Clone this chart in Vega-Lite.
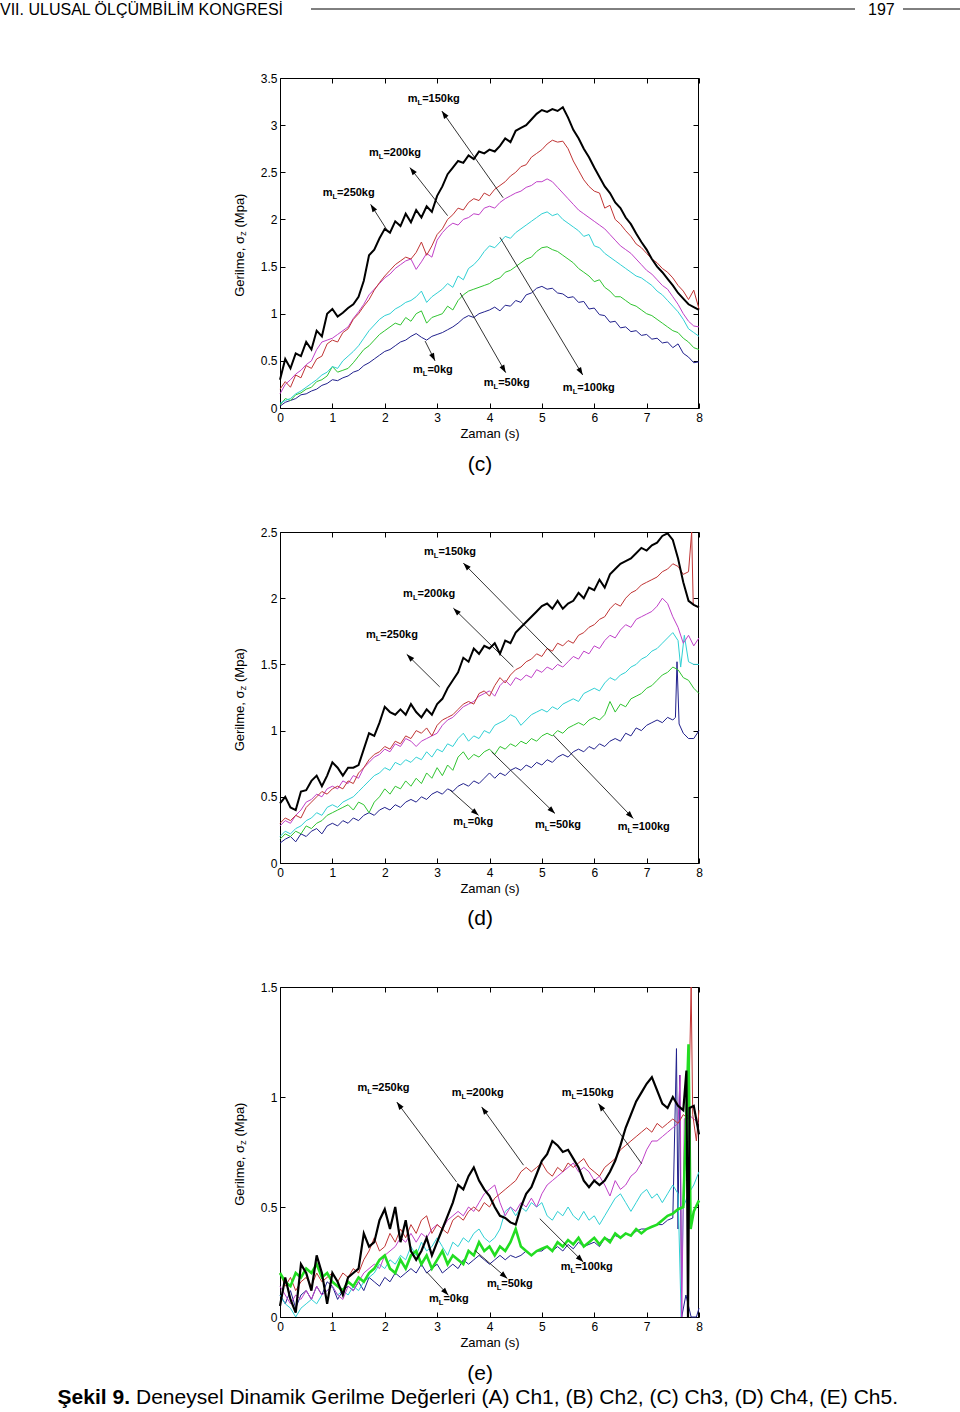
{
"$schema": "https://vega.github.io/schema/vega-lite/v6.json",
"width": 960, "height": 1412,
"autosize": {"type": "fit", "contains": "padding"},
"padding": 0,
"background": "white",
"config": {
  "font": "Liberation Sans",
  "view": {"stroke": null},
  "axis": {"domainColor": "#000", "tickColor": "#000", "labelColor": "#000", "titleColor": "#000", "labelFontSize": 12, "titleFontSize": 13, "titleFontWeight": "normal", "tickSize": -5, "labelPadding": 9, "grid": false, "labelFlush": false, "titlePadding": 4},
  "axisLeft": {"labelPadding": 8},
  "text": {"color": "#000"}
},
"datasets": {
"c": [
{"s":"0","t":0,"v":0.02},{"s":"0","t":0.1,"v":0.06},{"s":"0","t":0.2,"v":0.08},{"s":"0","t":0.3,"v":0.10},{"s":"0","t":0.4,"v":0.14},{"s":"0","t":0.5,"v":0.15},{"s":"0","t":0.6,"v":0.18},{"s":"0","t":0.7,"v":0.20},{"s":"0","t":0.8,"v":0.24},{"s":"0","t":0.9,"v":0.26},
{"s":"0","t":1,"v":0.30},{"s":"0","t":1.1,"v":0.29},{"s":"0","t":1.2,"v":0.32},{"s":"0","t":1.3,"v":0.34},{"s":"0","t":1.4,"v":0.38},{"s":"0","t":1.5,"v":0.40},{"s":"0","t":1.6,"v":0.45},{"s":"0","t":1.7,"v":0.48},{"s":"0","t":1.8,"v":0.52},{"s":"0","t":1.9,"v":0.56},
{"s":"0","t":2,"v":0.60},{"s":"0","t":2.1,"v":0.62},{"s":"0","t":2.2,"v":0.66},{"s":"0","t":2.3,"v":0.70},{"s":"0","t":2.4,"v":0.72},{"s":"0","t":2.5,"v":0.76},{"s":"0","t":2.6,"v":0.79},{"s":"0","t":2.7,"v":0.75},{"s":"0","t":2.8,"v":0.72},{"s":"0","t":2.9,"v":0.76},
{"s":"0","t":3,"v":0.78},{"s":"0","t":3.1,"v":0.80},{"s":"0","t":3.2,"v":0.83},{"s":"0","t":3.3,"v":0.86},{"s":"0","t":3.4,"v":0.90},{"s":"0","t":3.5,"v":0.95},{"s":"0","t":3.6,"v":0.98},{"s":"0","t":3.7,"v":0.96},{"s":"0","t":3.8,"v":1.00},{"s":"0","t":3.9,"v":1.02},
{"s":"0","t":4,"v":1.04},{"s":"0","t":4.1,"v":1.07},{"s":"0","t":4.2,"v":1.03},{"s":"0","t":4.3,"v":1.09},{"s":"0","t":4.4,"v":1.08},{"s":"0","t":4.5,"v":1.14},{"s":"0","t":4.6,"v":1.12},{"s":"0","t":4.7,"v":1.20},{"s":"0","t":4.8,"v":1.22},{"s":"0","t":4.9,"v":1.27},
{"s":"0","t":5,"v":1.29},{"s":"0","t":5.1,"v":1.26},{"s":"0","t":5.2,"v":1.27},{"s":"0","t":5.3,"v":1.22},{"s":"0","t":5.4,"v":1.21},{"s":"0","t":5.5,"v":1.17},{"s":"0","t":5.6,"v":1.18},{"s":"0","t":5.7,"v":1.12},{"s":"0","t":5.8,"v":1.13},{"s":"0","t":5.9,"v":1.05},
{"s":"0","t":6,"v":1.06},{"s":"0","t":6.1,"v":0.99},{"s":"0","t":6.2,"v":0.98},{"s":"0","t":6.3,"v":0.91},{"s":"0","t":6.4,"v":0.92},{"s":"0","t":6.5,"v":0.85},{"s":"0","t":6.6,"v":0.86},{"s":"0","t":6.7,"v":0.81},{"s":"0","t":6.8,"v":0.82},{"s":"0","t":6.9,"v":0.77},
{"s":"0","t":7,"v":0.78},{"s":"0","t":7.1,"v":0.73},{"s":"0","t":7.2,"v":0.74},{"s":"0","t":7.3,"v":0.69},{"s":"0","t":7.4,"v":0.70},{"s":"0","t":7.5,"v":0.64},{"s":"0","t":7.6,"v":0.68},{"s":"0","t":7.7,"v":0.58},{"s":"0","t":7.8,"v":0.54},{"s":"0","t":7.9,"v":0.48},{"s":"0","t":8,"v":0.49},
{"s":"50","t":0,"v":0.03},{"s":"50","t":0.1,"v":0.10},{"s":"50","t":0.2,"v":0.08},{"s":"50","t":0.3,"v":0.14},{"s":"50","t":0.4,"v":0.16},{"s":"50","t":0.5,"v":0.20},{"s":"50","t":0.6,"v":0.22},{"s":"50","t":0.7,"v":0.28},{"s":"50","t":0.8,"v":0.30},{"s":"50","t":0.9,"v":0.34},
{"s":"50","t":1,"v":0.44},{"s":"50","t":1.1,"v":0.38},{"s":"50","t":1.2,"v":0.40},{"s":"50","t":1.3,"v":0.42},{"s":"50","t":1.4,"v":0.48},{"s":"50","t":1.5,"v":0.55},{"s":"50","t":1.6,"v":0.62},{"s":"50","t":1.7,"v":0.66},{"s":"50","t":1.8,"v":0.72},{"s":"50","t":1.9,"v":0.78},
{"s":"50","t":2,"v":0.82},{"s":"50","t":2.1,"v":0.86},{"s":"50","t":2.2,"v":0.90},{"s":"50","t":2.3,"v":0.88},{"s":"50","t":2.4,"v":0.96},{"s":"50","t":2.5,"v":0.92},{"s":"50","t":2.6,"v":1.00},{"s":"50","t":2.7,"v":1.03},{"s":"50","t":2.8,"v":0.90},{"s":"50","t":2.9,"v":0.96},
{"s":"50","t":3,"v":0.98},{"s":"50","t":3.1,"v":1.00},{"s":"50","t":3.2,"v":1.08},{"s":"50","t":3.3,"v":1.04},{"s":"50","t":3.4,"v":1.14},{"s":"50","t":3.5,"v":1.20},{"s":"50","t":3.6,"v":1.24},{"s":"50","t":3.7,"v":1.26},{"s":"50","t":3.8,"v":1.28},{"s":"50","t":3.9,"v":1.30},
{"s":"50","t":4,"v":1.32},{"s":"50","t":4.1,"v":1.36},{"s":"50","t":4.2,"v":1.38},{"s":"50","t":4.3,"v":1.44},{"s":"50","t":4.4,"v":1.46},{"s":"50","t":4.5,"v":1.50},{"s":"50","t":4.6,"v":1.54},{"s":"50","t":4.7,"v":1.58},{"s":"50","t":4.8,"v":1.60},{"s":"50","t":4.9,"v":1.66},
{"s":"50","t":5,"v":1.70},{"s":"50","t":5.1,"v":1.71},{"s":"50","t":5.2,"v":1.68},{"s":"50","t":5.3,"v":1.66},{"s":"50","t":5.4,"v":1.62},{"s":"50","t":5.5,"v":1.58},{"s":"50","t":5.6,"v":1.54},{"s":"50","t":5.7,"v":1.48},{"s":"50","t":5.8,"v":1.44},{"s":"50","t":5.9,"v":1.40},
{"s":"50","t":6,"v":1.34},{"s":"50","t":6.1,"v":1.36},{"s":"50","t":6.2,"v":1.28},{"s":"50","t":6.3,"v":1.24},{"s":"50","t":6.4,"v":1.18},{"s":"50","t":6.5,"v":1.18},{"s":"50","t":6.6,"v":1.14},{"s":"50","t":6.7,"v":1.10},{"s":"50","t":6.8,"v":1.08},{"s":"50","t":6.9,"v":1.04},
{"s":"50","t":7,"v":1.00},{"s":"50","t":7.1,"v":0.98},{"s":"50","t":7.2,"v":0.94},{"s":"50","t":7.3,"v":0.90},{"s":"50","t":7.4,"v":0.86},{"s":"50","t":7.5,"v":0.82},{"s":"50","t":7.6,"v":0.80},{"s":"50","t":7.7,"v":0.74},{"s":"50","t":7.8,"v":0.70},{"s":"50","t":7.9,"v":0.64},{"s":"50","t":8,"v":0.62},
{"s":"100","t":0,"v":0.05},{"s":"100","t":0.1,"v":0.08},{"s":"100","t":0.2,"v":0.10},{"s":"100","t":0.3,"v":0.15},{"s":"100","t":0.4,"v":0.18},{"s":"100","t":0.5,"v":0.22},{"s":"100","t":0.6,"v":0.26},{"s":"100","t":0.7,"v":0.30},{"s":"100","t":0.8,"v":0.35},{"s":"100","t":0.9,"v":0.38},
{"s":"100","t":1,"v":0.44},{"s":"100","t":1.1,"v":0.42},{"s":"100","t":1.2,"v":0.50},{"s":"100","t":1.3,"v":0.55},{"s":"100","t":1.4,"v":0.60},{"s":"100","t":1.5,"v":0.66},{"s":"100","t":1.6,"v":0.74},{"s":"100","t":1.7,"v":0.82},{"s":"100","t":1.8,"v":0.88},{"s":"100","t":1.9,"v":0.94},
{"s":"100","t":2,"v":0.98},{"s":"100","t":2.1,"v":1.00},{"s":"100","t":2.2,"v":1.05},{"s":"100","t":2.3,"v":1.08},{"s":"100","t":2.4,"v":1.12},{"s":"100","t":2.5,"v":1.14},{"s":"100","t":2.6,"v":1.18},{"s":"100","t":2.7,"v":1.24},{"s":"100","t":2.8,"v":1.12},{"s":"100","t":2.9,"v":1.18},
{"s":"100","t":3,"v":1.22},{"s":"100","t":3.1,"v":1.26},{"s":"100","t":3.2,"v":1.32},{"s":"100","t":3.3,"v":1.28},{"s":"100","t":3.4,"v":1.40},{"s":"100","t":3.5,"v":1.36},{"s":"100","t":3.6,"v":1.48},{"s":"100","t":3.7,"v":1.52},{"s":"100","t":3.8,"v":1.58},{"s":"100","t":3.9,"v":1.66},
{"s":"100","t":4,"v":1.72},{"s":"100","t":4.1,"v":1.70},{"s":"100","t":4.2,"v":1.76},{"s":"100","t":4.3,"v":1.82},{"s":"100","t":4.4,"v":1.80},{"s":"100","t":4.5,"v":1.86},{"s":"100","t":4.6,"v":1.90},{"s":"100","t":4.7,"v":1.94},{"s":"100","t":4.8,"v":1.98},{"s":"100","t":4.9,"v":2.02},
{"s":"100","t":5,"v":2.06},{"s":"100","t":5.1,"v":2.08},{"s":"100","t":5.2,"v":2.04},{"s":"100","t":5.3,"v":2.06},{"s":"100","t":5.4,"v":2.00},{"s":"100","t":5.5,"v":1.96},{"s":"100","t":5.6,"v":1.92},{"s":"100","t":5.7,"v":1.88},{"s":"100","t":5.8,"v":1.82},{"s":"100","t":5.9,"v":1.84},
{"s":"100","t":6,"v":1.72},{"s":"100","t":6.1,"v":1.70},{"s":"100","t":6.2,"v":1.64},{"s":"100","t":6.3,"v":1.60},{"s":"100","t":6.4,"v":1.56},{"s":"100","t":6.5,"v":1.52},{"s":"100","t":6.6,"v":1.48},{"s":"100","t":6.7,"v":1.44},{"s":"100","t":6.8,"v":1.40},{"s":"100","t":6.9,"v":1.38},
{"s":"100","t":7,"v":1.34},{"s":"100","t":7.1,"v":1.30},{"s":"100","t":7.2,"v":1.24},{"s":"100","t":7.3,"v":1.20},{"s":"100","t":7.4,"v":1.14},{"s":"100","t":7.5,"v":1.08},{"s":"100","t":7.6,"v":1.02},{"s":"100","t":7.7,"v":0.94},{"s":"100","t":7.8,"v":0.84},{"s":"100","t":7.9,"v":0.80},{"s":"100","t":8,"v":0.76},
{"s":"150","t":0,"v":0.15},{"s":"150","t":0.1,"v":0.25},{"s":"150","t":0.2,"v":0.30},{"s":"150","t":0.3,"v":0.36},{"s":"150","t":0.4,"v":0.40},{"s":"150","t":0.5,"v":0.46},{"s":"150","t":0.6,"v":0.50},{"s":"150","t":0.7,"v":0.62},{"s":"150","t":0.8,"v":0.70},{"s":"150","t":0.9,"v":0.72},
{"s":"150","t":1,"v":0.74},{"s":"150","t":1.1,"v":0.78},{"s":"150","t":1.2,"v":0.82},{"s":"150","t":1.3,"v":0.86},{"s":"150","t":1.4,"v":0.95},{"s":"150","t":1.5,"v":1.02},{"s":"150","t":1.6,"v":1.10},{"s":"150","t":1.7,"v":1.20},{"s":"150","t":1.8,"v":1.26},{"s":"150","t":1.9,"v":1.32},
{"s":"150","t":2,"v":1.38},{"s":"150","t":2.1,"v":1.42},{"s":"150","t":2.2,"v":1.48},{"s":"150","t":2.3,"v":1.52},{"s":"150","t":2.4,"v":1.56},{"s":"150","t":2.5,"v":1.58},{"s":"150","t":2.6,"v":1.47},{"s":"150","t":2.7,"v":1.55},{"s":"150","t":2.8,"v":1.64},{"s":"150","t":2.9,"v":1.60},
{"s":"150","t":3,"v":1.78},{"s":"150","t":3.1,"v":1.86},{"s":"150","t":3.2,"v":1.92},{"s":"150","t":3.3,"v":1.96},{"s":"150","t":3.4,"v":1.94},{"s":"150","t":3.5,"v":2.00},{"s":"150","t":3.6,"v":2.02},{"s":"150","t":3.7,"v":2.06},{"s":"150","t":3.8,"v":2.05},{"s":"150","t":3.9,"v":2.12},
{"s":"150","t":4,"v":2.14},{"s":"150","t":4.1,"v":2.12},{"s":"150","t":4.2,"v":2.18},{"s":"150","t":4.3,"v":2.22},{"s":"150","t":4.4,"v":2.25},{"s":"150","t":4.5,"v":2.28},{"s":"150","t":4.6,"v":2.30},{"s":"150","t":4.7,"v":2.34},{"s":"150","t":4.8,"v":2.36},{"s":"150","t":4.9,"v":2.40},
{"s":"150","t":5,"v":2.40},{"s":"150","t":5.1,"v":2.43},{"s":"150","t":5.2,"v":2.40},{"s":"150","t":5.3,"v":2.34},{"s":"150","t":5.4,"v":2.28},{"s":"150","t":5.5,"v":2.22},{"s":"150","t":5.6,"v":2.16},{"s":"150","t":5.7,"v":2.10},{"s":"150","t":5.8,"v":2.06},{"s":"150","t":5.9,"v":2.02},
{"s":"150","t":6,"v":1.98},{"s":"150","t":6.1,"v":1.94},{"s":"150","t":6.2,"v":1.90},{"s":"150","t":6.3,"v":1.84},{"s":"150","t":6.4,"v":1.78},{"s":"150","t":6.5,"v":1.72},{"s":"150","t":6.6,"v":1.68},{"s":"150","t":6.7,"v":1.64},{"s":"150","t":6.8,"v":1.58},{"s":"150","t":6.9,"v":1.52},
{"s":"150","t":7,"v":1.46},{"s":"150","t":7.1,"v":1.42},{"s":"150","t":7.2,"v":1.36},{"s":"150","t":7.3,"v":1.30},{"s":"150","t":7.4,"v":1.26},{"s":"150","t":7.5,"v":1.18},{"s":"150","t":7.6,"v":1.10},{"s":"150","t":7.7,"v":1.00},{"s":"150","t":7.8,"v":0.92},{"s":"150","t":7.9,"v":0.87},{"s":"150","t":8,"v":0.86},
{"s":"200","t":0,"v":0.20},{"s":"200","t":0.1,"v":0.28},{"s":"200","t":0.2,"v":0.22},{"s":"200","t":0.3,"v":0.35},{"s":"200","t":0.4,"v":0.32},{"s":"200","t":0.5,"v":0.45},{"s":"200","t":0.6,"v":0.42},{"s":"200","t":0.7,"v":0.52},{"s":"200","t":0.8,"v":0.55},{"s":"200","t":0.9,"v":0.68},
{"s":"200","t":1,"v":0.72},{"s":"200","t":1.1,"v":0.70},{"s":"200","t":1.2,"v":0.80},{"s":"200","t":1.3,"v":0.84},{"s":"200","t":1.4,"v":0.94},{"s":"200","t":1.5,"v":1.00},{"s":"200","t":1.6,"v":1.08},{"s":"200","t":1.7,"v":1.15},{"s":"200","t":1.8,"v":1.25},{"s":"200","t":1.9,"v":1.33},
{"s":"200","t":2,"v":1.40},{"s":"200","t":2.1,"v":1.46},{"s":"200","t":2.2,"v":1.52},{"s":"200","t":2.3,"v":1.56},{"s":"200","t":2.4,"v":1.60},{"s":"200","t":2.5,"v":1.58},{"s":"200","t":2.6,"v":1.65},{"s":"200","t":2.7,"v":1.76},{"s":"200","t":2.8,"v":1.62},{"s":"200","t":2.9,"v":1.72},
{"s":"200","t":3,"v":1.84},{"s":"200","t":3.1,"v":1.90},{"s":"200","t":3.2,"v":2.00},{"s":"200","t":3.3,"v":2.05},{"s":"200","t":3.4,"v":2.12},{"s":"200","t":3.5,"v":2.10},{"s":"200","t":3.6,"v":2.18},{"s":"200","t":3.7,"v":2.22},{"s":"200","t":3.8,"v":2.20},{"s":"200","t":3.9,"v":2.28},
{"s":"200","t":4,"v":2.25},{"s":"200","t":4.1,"v":2.32},{"s":"200","t":4.2,"v":2.36},{"s":"200","t":4.3,"v":2.40},{"s":"200","t":4.4,"v":2.46},{"s":"200","t":4.5,"v":2.50},{"s":"200","t":4.6,"v":2.56},{"s":"200","t":4.7,"v":2.58},{"s":"200","t":4.8,"v":2.66},{"s":"200","t":4.9,"v":2.70},
{"s":"200","t":5,"v":2.74},{"s":"200","t":5.1,"v":2.80},{"s":"200","t":5.2,"v":2.84},{"s":"200","t":5.3,"v":2.82},{"s":"200","t":5.4,"v":2.83},{"s":"200","t":5.5,"v":2.75},{"s":"200","t":5.6,"v":2.62},{"s":"200","t":5.7,"v":2.52},{"s":"200","t":5.8,"v":2.42},{"s":"200","t":5.9,"v":2.35},
{"s":"200","t":6,"v":2.30},{"s":"200","t":6.1,"v":2.28},{"s":"200","t":6.2,"v":2.12},{"s":"200","t":6.3,"v":2.15},{"s":"200","t":6.4,"v":2.00},{"s":"200","t":6.5,"v":1.95},{"s":"200","t":6.6,"v":1.88},{"s":"200","t":6.7,"v":1.82},{"s":"200","t":6.8,"v":1.74},{"s":"200","t":6.9,"v":1.70},
{"s":"200","t":7,"v":1.64},{"s":"200","t":7.1,"v":1.58},{"s":"200","t":7.2,"v":1.54},{"s":"200","t":7.3,"v":1.48},{"s":"200","t":7.4,"v":1.44},{"s":"200","t":7.5,"v":1.38},{"s":"200","t":7.6,"v":1.30},{"s":"200","t":7.7,"v":1.24},{"s":"200","t":7.8,"v":1.15},{"s":"200","t":7.9,"v":1.25},{"s":"200","t":8,"v":1.05},
{"s":"250","t":0,"v":0.30},{"s":"250","t":0.1,"v":0.52},{"s":"250","t":0.2,"v":0.42},{"s":"250","t":0.3,"v":0.58},{"s":"250","t":0.4,"v":0.55},{"s":"250","t":0.5,"v":0.70},{"s":"250","t":0.6,"v":0.62},{"s":"250","t":0.7,"v":0.82},{"s":"250","t":0.8,"v":0.76},{"s":"250","t":0.9,"v":1.00},
{"s":"250","t":1,"v":1.05},{"s":"250","t":1.1,"v":0.97},{"s":"250","t":1.2,"v":1.01},{"s":"250","t":1.3,"v":1.06},{"s":"250","t":1.4,"v":1.10},{"s":"250","t":1.5,"v":1.18},{"s":"250","t":1.6,"v":1.35},{"s":"250","t":1.7,"v":1.62},{"s":"250","t":1.8,"v":1.68},{"s":"250","t":1.9,"v":1.80},
{"s":"250","t":2,"v":1.90},{"s":"250","t":2.1,"v":1.86},{"s":"250","t":2.2,"v":1.98},{"s":"250","t":2.3,"v":1.93},{"s":"250","t":2.4,"v":2.06},{"s":"250","t":2.5,"v":1.97},{"s":"250","t":2.6,"v":2.10},{"s":"250","t":2.7,"v":2.02},{"s":"250","t":2.8,"v":2.14},{"s":"250","t":2.9,"v":2.08},
{"s":"250","t":3,"v":2.25},{"s":"250","t":3.1,"v":2.35},{"s":"250","t":3.2,"v":2.48},{"s":"250","t":3.3,"v":2.55},{"s":"250","t":3.4,"v":2.62},{"s":"250","t":3.5,"v":2.60},{"s":"250","t":3.6,"v":2.68},{"s":"250","t":3.7,"v":2.64},{"s":"250","t":3.8,"v":2.72},{"s":"250","t":3.9,"v":2.70},
{"s":"250","t":4,"v":2.74},{"s":"250","t":4.1,"v":2.72},{"s":"250","t":4.2,"v":2.78},{"s":"250","t":4.3,"v":2.86},{"s":"250","t":4.4,"v":2.82},{"s":"250","t":4.5,"v":2.94},{"s":"250","t":4.6,"v":2.97},{"s":"250","t":4.7,"v":3.00},{"s":"250","t":4.8,"v":3.06},{"s":"250","t":4.9,"v":3.12},
{"s":"250","t":5,"v":3.16},{"s":"250","t":5.1,"v":3.14},{"s":"250","t":5.2,"v":3.17},{"s":"250","t":5.3,"v":3.15},{"s":"250","t":5.4,"v":3.19},{"s":"250","t":5.5,"v":3.08},{"s":"250","t":5.6,"v":2.95},{"s":"250","t":5.7,"v":2.86},{"s":"250","t":5.8,"v":2.75},{"s":"250","t":5.9,"v":2.66},
{"s":"250","t":6,"v":2.55},{"s":"250","t":6.1,"v":2.45},{"s":"250","t":6.2,"v":2.35},{"s":"250","t":6.3,"v":2.28},{"s":"250","t":6.4,"v":2.18},{"s":"250","t":6.5,"v":2.12},{"s":"250","t":6.6,"v":2.02},{"s":"250","t":6.7,"v":1.95},{"s":"250","t":6.8,"v":1.85},{"s":"250","t":6.9,"v":1.76},
{"s":"250","t":7,"v":1.68},{"s":"250","t":7.1,"v":1.58},{"s":"250","t":7.2,"v":1.50},{"s":"250","t":7.3,"v":1.44},{"s":"250","t":7.4,"v":1.37},{"s":"250","t":7.5,"v":1.30},{"s":"250","t":7.6,"v":1.22},{"s":"250","t":7.7,"v":1.16},{"s":"250","t":7.8,"v":1.10},{"s":"250","t":7.9,"v":1.07},{"s":"250","t":8,"v":1.04}
],
"d": [
{"s":"0","t":0,"v":0.15},{"s":"0","t":0.1,"v":0.18},{"s":"0","t":0.2,"v":0.20},{"s":"0","t":0.3,"v":0.16},{"s":"0","t":0.4,"v":0.22},{"s":"0","t":0.5,"v":0.20},{"s":"0","t":0.6,"v":0.24},{"s":"0","t":0.7,"v":0.26},{"s":"0","t":0.8,"v":0.22},{"s":"0","t":0.9,"v":0.28},
{"s":"0","t":1,"v":0.30},{"s":"0","t":1.1,"v":0.28},{"s":"0","t":1.2,"v":0.32},{"s":"0","t":1.3,"v":0.30},{"s":"0","t":1.4,"v":0.34},{"s":"0","t":1.5,"v":0.32},{"s":"0","t":1.6,"v":0.36},{"s":"0","t":1.7,"v":0.38},{"s":"0","t":1.8,"v":0.36},{"s":"0","t":1.9,"v":0.40},
{"s":"0","t":2,"v":0.42},{"s":"0","t":2.1,"v":0.40},{"s":"0","t":2.2,"v":0.44},{"s":"0","t":2.3,"v":0.42},{"s":"0","t":2.4,"v":0.46},{"s":"0","t":2.5,"v":0.48},{"s":"0","t":2.6,"v":0.46},{"s":"0","t":2.7,"v":0.50},{"s":"0","t":2.8,"v":0.48},{"s":"0","t":2.9,"v":0.52},
{"s":"0","t":3,"v":0.54},{"s":"0","t":3.1,"v":0.52},{"s":"0","t":3.2,"v":0.56},{"s":"0","t":3.3,"v":0.54},{"s":"0","t":3.4,"v":0.58},{"s":"0","t":3.5,"v":0.60},{"s":"0","t":3.6,"v":0.58},{"s":"0","t":3.7,"v":0.62},{"s":"0","t":3.8,"v":0.60},{"s":"0","t":3.9,"v":0.64},
{"s":"0","t":4,"v":0.68},{"s":"0","t":4.1,"v":0.64},{"s":"0","t":4.2,"v":0.68},{"s":"0","t":4.3,"v":0.66},{"s":"0","t":4.4,"v":0.70},{"s":"0","t":4.5,"v":0.72},{"s":"0","t":4.6,"v":0.70},{"s":"0","t":4.7,"v":0.74},{"s":"0","t":4.8,"v":0.72},{"s":"0","t":4.9,"v":0.76},
{"s":"0","t":5,"v":0.74},{"s":"0","t":5.1,"v":0.78},{"s":"0","t":5.2,"v":0.76},{"s":"0","t":5.3,"v":0.80},{"s":"0","t":5.4,"v":0.82},{"s":"0","t":5.5,"v":0.80},{"s":"0","t":5.6,"v":0.84},{"s":"0","t":5.7,"v":0.86},{"s":"0","t":5.8,"v":0.84},{"s":"0","t":5.9,"v":0.88},
{"s":"0","t":6,"v":0.86},{"s":"0","t":6.1,"v":0.90},{"s":"0","t":6.2,"v":0.88},{"s":"0","t":6.3,"v":0.92},{"s":"0","t":6.4,"v":0.94},{"s":"0","t":6.5,"v":0.92},{"s":"0","t":6.6,"v":0.98},{"s":"0","t":6.7,"v":0.96},{"s":"0","t":6.8,"v":1.02},{"s":"0","t":6.9,"v":1.00},
{"s":"0","t":7,"v":1.04},{"s":"0","t":7.1,"v":1.06},{"s":"0","t":7.2,"v":1.08},{"s":"0","t":7.3,"v":1.06},{"s":"0","t":7.4,"v":1.10},{"s":"0","t":7.5,"v":1.08},{"s":"0","t":7.55,"v":1.10},{"s":"0","t":7.58,"v":1.52},{"s":"0","t":7.62,"v":1.05},{"s":"0","t":7.7,"v":0.98},{"s":"0","t":7.8,"v":0.94},{"s":"0","t":7.9,"v":0.94},{"s":"0","t":8,"v":1.00},
{"s":"50","t":0,"v":0.18},{"s":"50","t":0.1,"v":0.22},{"s":"50","t":0.2,"v":0.20},{"s":"50","t":0.3,"v":0.24},{"s":"50","t":0.4,"v":0.22},{"s":"50","t":0.5,"v":0.28},{"s":"50","t":0.6,"v":0.26},{"s":"50","t":0.7,"v":0.30},{"s":"50","t":0.8,"v":0.32},{"s":"50","t":0.9,"v":0.36},
{"s":"50","t":1,"v":0.38},{"s":"50","t":1.1,"v":0.40},{"s":"50","t":1.2,"v":0.42},{"s":"50","t":1.3,"v":0.44},{"s":"50","t":1.4,"v":0.40},{"s":"50","t":1.5,"v":0.46},{"s":"50","t":1.6,"v":0.44},{"s":"50","t":1.7,"v":0.38},{"s":"50","t":1.8,"v":0.46},{"s":"50","t":1.9,"v":0.50},
{"s":"50","t":2,"v":0.56},{"s":"50","t":2.1,"v":0.52},{"s":"50","t":2.2,"v":0.58},{"s":"50","t":2.3,"v":0.56},{"s":"50","t":2.4,"v":0.62},{"s":"50","t":2.5,"v":0.58},{"s":"50","t":2.6,"v":0.64},{"s":"50","t":2.7,"v":0.60},{"s":"50","t":2.8,"v":0.68},{"s":"50","t":2.9,"v":0.64},
{"s":"50","t":3,"v":0.72},{"s":"50","t":3.1,"v":0.66},{"s":"50","t":3.2,"v":0.74},{"s":"50","t":3.3,"v":0.70},{"s":"50","t":3.4,"v":0.80},{"s":"50","t":3.5,"v":0.84},{"s":"50","t":3.6,"v":0.78},{"s":"50","t":3.7,"v":0.82},{"s":"50","t":3.8,"v":0.80},{"s":"50","t":3.9,"v":0.84},
{"s":"50","t":4,"v":0.86},{"s":"50","t":4.1,"v":0.82},{"s":"50","t":4.2,"v":0.88},{"s":"50","t":4.3,"v":0.86},{"s":"50","t":4.4,"v":0.90},{"s":"50","t":4.5,"v":0.88},{"s":"50","t":4.6,"v":0.92},{"s":"50","t":4.7,"v":0.90},{"s":"50","t":4.8,"v":0.94},{"s":"50","t":4.9,"v":0.92},
{"s":"50","t":5,"v":0.96},{"s":"50","t":5.1,"v":0.98},{"s":"50","t":5.2,"v":0.96},{"s":"50","t":5.3,"v":1.00},{"s":"50","t":5.4,"v":0.98},{"s":"50","t":5.5,"v":1.02},{"s":"50","t":5.6,"v":1.04},{"s":"50","t":5.7,"v":1.06},{"s":"50","t":5.8,"v":1.04},{"s":"50","t":5.9,"v":1.08},
{"s":"50","t":6,"v":1.10},{"s":"50","t":6.1,"v":1.08},{"s":"50","t":6.2,"v":1.12},{"s":"50","t":6.3,"v":1.22},{"s":"50","t":6.4,"v":1.14},{"s":"50","t":6.5,"v":1.20},{"s":"50","t":6.6,"v":1.18},{"s":"50","t":6.7,"v":1.24},{"s":"50","t":6.8,"v":1.26},{"s":"50","t":6.9,"v":1.28},
{"s":"50","t":7,"v":1.32},{"s":"50","t":7.1,"v":1.34},{"s":"50","t":7.2,"v":1.38},{"s":"50","t":7.3,"v":1.42},{"s":"50","t":7.4,"v":1.44},{"s":"50","t":7.5,"v":1.48},{"s":"50","t":7.6,"v":1.46},{"s":"50","t":7.7,"v":1.40},{"s":"50","t":7.8,"v":1.38},{"s":"50","t":7.9,"v":1.32},{"s":"50","t":8,"v":1.28},
{"s":"100","t":0,"v":0.20},{"s":"100","t":0.1,"v":0.24},{"s":"100","t":0.2,"v":0.22},{"s":"100","t":0.3,"v":0.26},{"s":"100","t":0.4,"v":0.28},{"s":"100","t":0.5,"v":0.32},{"s":"100","t":0.6,"v":0.34},{"s":"100","t":0.7,"v":0.38},{"s":"100","t":0.8,"v":0.36},{"s":"100","t":0.9,"v":0.42},
{"s":"100","t":1,"v":0.44},{"s":"100","t":1.1,"v":0.42},{"s":"100","t":1.2,"v":0.46},{"s":"100","t":1.3,"v":0.48},{"s":"100","t":1.4,"v":0.50},{"s":"100","t":1.5,"v":0.54},{"s":"100","t":1.6,"v":0.58},{"s":"100","t":1.7,"v":0.62},{"s":"100","t":1.8,"v":0.66},{"s":"100","t":1.9,"v":0.68},
{"s":"100","t":2,"v":0.72},{"s":"100","t":2.1,"v":0.70},{"s":"100","t":2.2,"v":0.76},{"s":"100","t":2.3,"v":0.74},{"s":"100","t":2.4,"v":0.78},{"s":"100","t":2.5,"v":0.76},{"s":"100","t":2.6,"v":0.80},{"s":"100","t":2.7,"v":0.78},{"s":"100","t":2.8,"v":0.84},{"s":"100","t":2.9,"v":0.80},
{"s":"100","t":3,"v":0.86},{"s":"100","t":3.1,"v":0.84},{"s":"100","t":3.2,"v":0.90},{"s":"100","t":3.3,"v":0.88},{"s":"100","t":3.4,"v":0.94},{"s":"100","t":3.5,"v":0.98},{"s":"100","t":3.6,"v":0.92},{"s":"100","t":3.7,"v":0.96},{"s":"100","t":3.8,"v":0.94},{"s":"100","t":3.9,"v":1.00},
{"s":"100","t":4,"v":0.98},{"s":"100","t":4.1,"v":1.04},{"s":"100","t":4.2,"v":1.06},{"s":"100","t":4.3,"v":1.08},{"s":"100","t":4.4,"v":1.12},{"s":"100","t":4.5,"v":1.10},{"s":"100","t":4.6,"v":1.04},{"s":"100","t":4.7,"v":1.08},{"s":"100","t":4.8,"v":1.12},{"s":"100","t":4.9,"v":1.14},
{"s":"100","t":5,"v":1.16},{"s":"100","t":5.1,"v":1.14},{"s":"100","t":5.2,"v":1.18},{"s":"100","t":5.3,"v":1.16},{"s":"100","t":5.4,"v":1.20},{"s":"100","t":5.5,"v":1.22},{"s":"100","t":5.6,"v":1.24},{"s":"100","t":5.7,"v":1.22},{"s":"100","t":5.8,"v":1.28},{"s":"100","t":5.9,"v":1.30},
{"s":"100","t":6,"v":1.32},{"s":"100","t":6.1,"v":1.30},{"s":"100","t":6.2,"v":1.36},{"s":"100","t":6.3,"v":1.40},{"s":"100","t":6.4,"v":1.38},{"s":"100","t":6.5,"v":1.42},{"s":"100","t":6.6,"v":1.44},{"s":"100","t":6.7,"v":1.48},{"s":"100","t":6.8,"v":1.50},{"s":"100","t":6.9,"v":1.54},
{"s":"100","t":7,"v":1.56},{"s":"100","t":7.1,"v":1.60},{"s":"100","t":7.2,"v":1.62},{"s":"100","t":7.3,"v":1.66},{"s":"100","t":7.4,"v":1.70},{"s":"100","t":7.5,"v":1.74},{"s":"100","t":7.6,"v":1.68},{"s":"100","t":7.65,"v":1.48},{"s":"100","t":7.72,"v":1.72},{"s":"100","t":7.8,"v":1.52},{"s":"100","t":7.9,"v":1.50},{"s":"100","t":8,"v":1.50},
{"s":"150","t":0,"v":0.28},{"s":"150","t":0.1,"v":0.32},{"s":"150","t":0.2,"v":0.30},{"s":"150","t":0.3,"v":0.36},{"s":"150","t":0.4,"v":0.40},{"s":"150","t":0.5,"v":0.46},{"s":"150","t":0.6,"v":0.48},{"s":"150","t":0.7,"v":0.52},{"s":"150","t":0.8,"v":0.50},{"s":"150","t":0.9,"v":0.56},
{"s":"150","t":1,"v":0.58},{"s":"150","t":1.1,"v":0.56},{"s":"150","t":1.2,"v":0.62},{"s":"150","t":1.3,"v":0.60},{"s":"150","t":1.4,"v":0.66},{"s":"150","t":1.5,"v":0.64},{"s":"150","t":1.6,"v":0.72},{"s":"150","t":1.7,"v":0.76},{"s":"150","t":1.8,"v":0.80},{"s":"150","t":1.9,"v":0.82},
{"s":"150","t":2,"v":0.86},{"s":"150","t":2.1,"v":0.84},{"s":"150","t":2.2,"v":0.90},{"s":"150","t":2.3,"v":0.88},{"s":"150","t":2.4,"v":0.94},{"s":"150","t":2.5,"v":0.92},{"s":"150","t":2.6,"v":0.88},{"s":"150","t":2.7,"v":0.92},{"s":"150","t":2.8,"v":0.94},{"s":"150","t":2.9,"v":0.96},
{"s":"150","t":3,"v":0.98},{"s":"150","t":3.1,"v":1.04},{"s":"150","t":3.2,"v":1.08},{"s":"150","t":3.3,"v":1.10},{"s":"150","t":3.4,"v":1.14},{"s":"150","t":3.5,"v":1.18},{"s":"150","t":3.6,"v":1.20},{"s":"150","t":3.7,"v":1.22},{"s":"150","t":3.8,"v":1.26},{"s":"150","t":3.9,"v":1.28},
{"s":"150","t":4,"v":1.30},{"s":"150","t":4.1,"v":1.26},{"s":"150","t":4.2,"v":1.34},{"s":"150","t":4.3,"v":1.38},{"s":"150","t":4.4,"v":1.34},{"s":"150","t":4.5,"v":1.40},{"s":"150","t":4.6,"v":1.38},{"s":"150","t":4.7,"v":1.42},{"s":"150","t":4.8,"v":1.40},{"s":"150","t":4.9,"v":1.46},
{"s":"150","t":5,"v":1.44},{"s":"150","t":5.1,"v":1.48},{"s":"150","t":5.2,"v":1.46},{"s":"150","t":5.3,"v":1.50},{"s":"150","t":5.4,"v":1.48},{"s":"150","t":5.5,"v":1.52},{"s":"150","t":5.6,"v":1.56},{"s":"150","t":5.7,"v":1.54},{"s":"150","t":5.8,"v":1.60},{"s":"150","t":5.9,"v":1.58},
{"s":"150","t":6,"v":1.64},{"s":"150","t":6.1,"v":1.62},{"s":"150","t":6.2,"v":1.68},{"s":"150","t":6.3,"v":1.72},{"s":"150","t":6.4,"v":1.70},{"s":"150","t":6.5,"v":1.76},{"s":"150","t":6.6,"v":1.80},{"s":"150","t":6.7,"v":1.78},{"s":"150","t":6.8,"v":1.84},{"s":"150","t":6.9,"v":1.86},
{"s":"150","t":7,"v":1.88},{"s":"150","t":7.1,"v":1.90},{"s":"150","t":7.2,"v":1.94},{"s":"150","t":7.3,"v":2.00},{"s":"150","t":7.4,"v":1.96},{"s":"150","t":7.5,"v":1.86},{"s":"150","t":7.6,"v":1.78},{"s":"150","t":7.7,"v":1.66},{"s":"150","t":7.8,"v":1.72},{"s":"150","t":7.9,"v":1.64},{"s":"150","t":8,"v":1.70},
{"s":"200","t":0,"v":0.30},{"s":"200","t":0.1,"v":0.34},{"s":"200","t":0.2,"v":0.32},{"s":"200","t":0.3,"v":0.36},{"s":"200","t":0.4,"v":0.34},{"s":"200","t":0.5,"v":0.42},{"s":"200","t":0.6,"v":0.46},{"s":"200","t":0.7,"v":0.50},{"s":"200","t":0.8,"v":0.54},{"s":"200","t":0.9,"v":0.52},
{"s":"200","t":1,"v":0.56},{"s":"200","t":1.1,"v":0.58},{"s":"200","t":1.2,"v":0.56},{"s":"200","t":1.3,"v":0.62},{"s":"200","t":1.4,"v":0.60},{"s":"200","t":1.5,"v":0.68},{"s":"200","t":1.6,"v":0.72},{"s":"200","t":1.7,"v":0.78},{"s":"200","t":1.8,"v":0.82},{"s":"200","t":1.9,"v":0.84},
{"s":"200","t":2,"v":0.88},{"s":"200","t":2.1,"v":0.86},{"s":"200","t":2.2,"v":0.92},{"s":"200","t":2.3,"v":0.90},{"s":"200","t":2.4,"v":0.96},{"s":"200","t":2.5,"v":0.94},{"s":"200","t":2.6,"v":1.00},{"s":"200","t":2.7,"v":0.98},{"s":"200","t":2.8,"v":1.02},{"s":"200","t":2.9,"v":0.96},
{"s":"200","t":3,"v":1.04},{"s":"200","t":3.1,"v":1.08},{"s":"200","t":3.2,"v":1.10},{"s":"200","t":3.3,"v":1.12},{"s":"200","t":3.4,"v":1.16},{"s":"200","t":3.5,"v":1.20},{"s":"200","t":3.6,"v":1.22},{"s":"200","t":3.7,"v":1.20},{"s":"200","t":3.8,"v":1.28},{"s":"200","t":3.9,"v":1.30},
{"s":"200","t":4,"v":1.26},{"s":"200","t":4.1,"v":1.34},{"s":"200","t":4.2,"v":1.40},{"s":"200","t":4.3,"v":1.36},{"s":"200","t":4.4,"v":1.42},{"s":"200","t":4.5,"v":1.46},{"s":"200","t":4.6,"v":1.48},{"s":"200","t":4.7,"v":1.52},{"s":"200","t":4.8,"v":1.54},{"s":"200","t":4.9,"v":1.58},
{"s":"200","t":5,"v":1.56},{"s":"200","t":5.1,"v":1.62},{"s":"200","t":5.2,"v":1.60},{"s":"200","t":5.3,"v":1.66},{"s":"200","t":5.4,"v":1.64},{"s":"200","t":5.5,"v":1.68},{"s":"200","t":5.6,"v":1.66},{"s":"200","t":5.7,"v":1.72},{"s":"200","t":5.8,"v":1.74},{"s":"200","t":5.9,"v":1.78},
{"s":"200","t":6,"v":1.80},{"s":"200","t":6.1,"v":1.84},{"s":"200","t":6.2,"v":1.86},{"s":"200","t":6.3,"v":1.92},{"s":"200","t":6.4,"v":1.96},{"s":"200","t":6.5,"v":1.94},{"s":"200","t":6.6,"v":2.00},{"s":"200","t":6.7,"v":2.04},{"s":"200","t":6.8,"v":2.06},{"s":"200","t":6.9,"v":2.10},
{"s":"200","t":7,"v":2.12},{"s":"200","t":7.1,"v":2.14},{"s":"200","t":7.2,"v":2.16},{"s":"200","t":7.3,"v":2.20},{"s":"200","t":7.4,"v":2.22},{"s":"200","t":7.5,"v":2.26},{"s":"200","t":7.6,"v":2.24},{"s":"200","t":7.7,"v":2.18},{"s":"200","t":7.8,"v":2.20},{"s":"200","t":7.86,"v":2.5},{"s":"200","t":7.89,"v":1.95},{"s":"200","t":8,"v":1.93},
{"s":"250","t":0,"v":0.45},{"s":"250","t":0.1,"v":0.50},{"s":"250","t":0.2,"v":0.42},{"s":"250","t":0.3,"v":0.40},{"s":"250","t":0.4,"v":0.54},{"s":"250","t":0.5,"v":0.55},{"s":"250","t":0.6,"v":0.62},{"s":"250","t":0.7,"v":0.66},{"s":"250","t":0.8,"v":0.58},{"s":"250","t":0.9,"v":0.66},
{"s":"250","t":1,"v":0.76},{"s":"250","t":1.1,"v":0.72},{"s":"250","t":1.2,"v":0.66},{"s":"250","t":1.3,"v":0.72},{"s":"250","t":1.4,"v":0.72},{"s":"250","t":1.5,"v":0.74},{"s":"250","t":1.6,"v":0.86},{"s":"250","t":1.7,"v":0.98},{"s":"250","t":1.8,"v":0.96},{"s":"250","t":1.9,"v":1.06},
{"s":"250","t":2,"v":1.18},{"s":"250","t":2.1,"v":1.14},{"s":"250","t":2.2,"v":1.12},{"s":"250","t":2.3,"v":1.16},{"s":"250","t":2.4,"v":1.12},{"s":"250","t":2.5,"v":1.20},{"s":"250","t":2.6,"v":1.14},{"s":"250","t":2.7,"v":1.10},{"s":"250","t":2.8,"v":1.16},{"s":"250","t":2.9,"v":1.12},
{"s":"250","t":3,"v":1.20},{"s":"250","t":3.1,"v":1.24},{"s":"250","t":3.2,"v":1.32},{"s":"250","t":3.3,"v":1.38},{"s":"250","t":3.4,"v":1.44},{"s":"250","t":3.5,"v":1.55},{"s":"250","t":3.6,"v":1.52},{"s":"250","t":3.7,"v":1.62},{"s":"250","t":3.8,"v":1.58},{"s":"250","t":3.9,"v":1.64},
{"s":"250","t":4,"v":1.62},{"s":"250","t":4.1,"v":1.66},{"s":"250","t":4.2,"v":1.58},{"s":"250","t":4.3,"v":1.68},{"s":"250","t":4.4,"v":1.66},{"s":"250","t":4.5,"v":1.74},{"s":"250","t":4.6,"v":1.78},{"s":"250","t":4.7,"v":1.82},{"s":"250","t":4.8,"v":1.86},{"s":"250","t":4.9,"v":1.90},
{"s":"250","t":5,"v":1.94},{"s":"250","t":5.1,"v":1.96},{"s":"250","t":5.2,"v":1.92},{"s":"250","t":5.3,"v":1.98},{"s":"250","t":5.4,"v":1.92},{"s":"250","t":5.5,"v":1.96},{"s":"250","t":5.6,"v":1.98},{"s":"250","t":5.7,"v":2.04},{"s":"250","t":5.8,"v":2.00},{"s":"250","t":5.9,"v":2.08},
{"s":"250","t":6,"v":2.06},{"s":"250","t":6.1,"v":2.14},{"s":"250","t":6.2,"v":2.08},{"s":"250","t":6.3,"v":2.18},{"s":"250","t":6.4,"v":2.22},{"s":"250","t":6.5,"v":2.26},{"s":"250","t":6.6,"v":2.28},{"s":"250","t":6.7,"v":2.30},{"s":"250","t":6.8,"v":2.34},{"s":"250","t":6.9,"v":2.38},
{"s":"250","t":7,"v":2.36},{"s":"250","t":7.1,"v":2.40},{"s":"250","t":7.2,"v":2.42},{"s":"250","t":7.3,"v":2.47},{"s":"250","t":7.4,"v":2.49},{"s":"250","t":7.5,"v":2.44},{"s":"250","t":7.6,"v":2.30},{"s":"250","t":7.7,"v":2.12},{"s":"250","t":7.8,"v":1.98},{"s":"250","t":7.9,"v":1.95},{"s":"250","t":8,"v":1.93}
],
"e": [
{"s":"0","t":0,"v":0.10},{"s":"0","t":0.1,"v":0.06},{"s":"0","t":0.2,"v":0.12},{"s":"0","t":0.3,"v":0.04},{"s":"0","t":0.4,"v":0.10},{"s":"0","t":0.5,"v":0.12},{"s":"0","t":0.6,"v":0.08},{"s":"0","t":0.7,"v":0.14},{"s":"0","t":0.8,"v":0.10},{"s":"0","t":0.9,"v":0.16},
{"s":"0","t":1,"v":0.14},{"s":"0","t":1.1,"v":0.08},{"s":"0","t":1.2,"v":0.12},{"s":"0","t":1.3,"v":0.14},{"s":"0","t":1.4,"v":0.12},{"s":"0","t":1.5,"v":0.16},{"s":"0","t":1.6,"v":0.12},{"s":"0","t":1.7,"v":0.18},{"s":"0","t":1.8,"v":0.16},{"s":"0","t":1.9,"v":0.14},
{"s":"0","t":2,"v":0.18},{"s":"0","t":2.1,"v":0.16},{"s":"0","t":2.2,"v":0.20},{"s":"0","t":2.3,"v":0.18},{"s":"0","t":2.4,"v":0.20},{"s":"0","t":2.5,"v":0.22},{"s":"0","t":2.6,"v":0.20},{"s":"0","t":2.7,"v":0.24},{"s":"0","t":2.8,"v":0.20},{"s":"0","t":2.9,"v":0.22},
{"s":"0","t":3,"v":0.24},{"s":"0","t":3.1,"v":0.20},{"s":"0","t":3.2,"v":0.22},{"s":"0","t":3.3,"v":0.24},{"s":"0","t":3.4,"v":0.22},{"s":"0","t":3.5,"v":0.26},{"s":"0","t":3.6,"v":0.24},{"s":"0","t":3.7,"v":0.26},{"s":"0","t":3.8,"v":0.28},{"s":"0","t":3.9,"v":0.26},
{"s":"0","t":4,"v":0.24},{"s":"0","t":4.1,"v":0.26},{"s":"0","t":4.2,"v":0.28},{"s":"0","t":4.3,"v":0.26},{"s":"0","t":4.4,"v":0.28},{"s":"0","t":4.5,"v":0.27},{"s":"0","t":4.6,"v":0.28},{"s":"0","t":4.7,"v":0.30},{"s":"0","t":4.8,"v":0.28},{"s":"0","t":4.9,"v":0.30},
{"s":"0","t":5,"v":0.30},{"s":"0","t":5.1,"v":0.32},{"s":"0","t":5.2,"v":0.30},{"s":"0","t":5.3,"v":0.32},{"s":"0","t":5.4,"v":0.30},{"s":"0","t":5.5,"v":0.33},{"s":"0","t":5.6,"v":0.31},{"s":"0","t":5.7,"v":0.34},{"s":"0","t":5.8,"v":0.32},{"s":"0","t":5.9,"v":0.33},
{"s":"0","t":6,"v":0.34},{"s":"0","t":6.1,"v":0.32},{"s":"0","t":6.2,"v":0.36},{"s":"0","t":6.3,"v":0.35},{"s":"0","t":6.4,"v":0.37},{"s":"0","t":6.5,"v":0.36},{"s":"0","t":6.6,"v":0.38},{"s":"0","t":6.7,"v":0.37},{"s":"0","t":6.8,"v":0.39},{"s":"0","t":6.9,"v":0.40},
{"s":"0","t":7,"v":0.40},{"s":"0","t":7.1,"v":0.41},{"s":"0","t":7.2,"v":0.42},{"s":"0","t":7.3,"v":0.42},{"s":"0","t":7.4,"v":0.44},{"s":"0","t":7.5,"v":0.45},{"s":"0","t":7.57,"v":1.22},{"s":"0","t":7.6,"v":0.40},{"s":"0","t":7.63,"v":1.10},{"s":"0","t":7.67,"v":0},{"s":"0","t":7.75,"v":0.10},{"s":"0","t":7.85,"v":0},{"s":"0","t":7.95,"v":0},{"s":"0","t":8,"v":0.04},
{"s":"100","t":0,"v":0.10},{"s":"100","t":0.1,"v":0.06},{"s":"100","t":0.2,"v":0.04},{"s":"100","t":0.3,"v":0.00},{"s":"100","t":0.4,"v":0.04},{"s":"100","t":0.5,"v":0.06},{"s":"100","t":0.6,"v":0.08},{"s":"100","t":0.7,"v":0.06},{"s":"100","t":0.8,"v":0.10},{"s":"100","t":0.9,"v":0.12},
{"s":"100","t":1,"v":0.14},{"s":"100","t":1.1,"v":0.10},{"s":"100","t":1.2,"v":0.12},{"s":"100","t":1.3,"v":0.10},{"s":"100","t":1.4,"v":0.14},{"s":"100","t":1.5,"v":0.12},{"s":"100","t":1.6,"v":0.16},{"s":"100","t":1.7,"v":0.18},{"s":"100","t":1.8,"v":0.20},{"s":"100","t":1.9,"v":0.24},
{"s":"100","t":2,"v":0.22},{"s":"100","t":2.1,"v":0.26},{"s":"100","t":2.2,"v":0.24},{"s":"100","t":2.3,"v":0.28},{"s":"100","t":2.4,"v":0.26},{"s":"100","t":2.5,"v":0.32},{"s":"100","t":2.6,"v":0.28},{"s":"100","t":2.7,"v":0.34},{"s":"100","t":2.8,"v":0.30},{"s":"100","t":2.9,"v":0.32},
{"s":"100","t":3,"v":0.36},{"s":"100","t":3.1,"v":0.32},{"s":"100","t":3.2,"v":0.28},{"s":"100","t":3.3,"v":0.34},{"s":"100","t":3.4,"v":0.32},{"s":"100","t":3.5,"v":0.36},{"s":"100","t":3.6,"v":0.34},{"s":"100","t":3.7,"v":0.38},{"s":"100","t":3.8,"v":0.40},{"s":"100","t":3.9,"v":0.36},
{"s":"100","t":4,"v":0.34},{"s":"100","t":4.1,"v":0.36},{"s":"100","t":4.2,"v":0.40},{"s":"100","t":4.3,"v":0.48},{"s":"100","t":4.4,"v":0.50},{"s":"100","t":4.5,"v":0.46},{"s":"100","t":4.6,"v":0.50},{"s":"100","t":4.7,"v":0.48},{"s":"100","t":4.8,"v":0.52},{"s":"100","t":4.9,"v":0.50},
{"s":"100","t":5,"v":0.52},{"s":"100","t":5.1,"v":0.46},{"s":"100","t":5.2,"v":0.44},{"s":"100","t":5.3,"v":0.48},{"s":"100","t":5.4,"v":0.46},{"s":"100","t":5.5,"v":0.50},{"s":"100","t":5.6,"v":0.46},{"s":"100","t":5.7,"v":0.44},{"s":"100","t":5.8,"v":0.48},{"s":"100","t":5.9,"v":0.44},
{"s":"100","t":6,"v":0.46},{"s":"100","t":6.1,"v":0.42},{"s":"100","t":6.2,"v":0.46},{"s":"100","t":6.3,"v":0.50},{"s":"100","t":6.4,"v":0.54},{"s":"100","t":6.5,"v":0.56},{"s":"100","t":6.6,"v":0.52},{"s":"100","t":6.7,"v":0.48},{"s":"100","t":6.8,"v":0.52},{"s":"100","t":6.9,"v":0.56},
{"s":"100","t":7,"v":0.58},{"s":"100","t":7.1,"v":0.54},{"s":"100","t":7.2,"v":0.56},{"s":"100","t":7.3,"v":0.52},{"s":"100","t":7.4,"v":0.56},{"s":"100","t":7.5,"v":0.60},{"s":"100","t":7.6,"v":0.56},{"s":"100","t":7.66,"v":0},{"s":"100","t":7.7,"v":0.50},{"s":"100","t":7.8,"v":0.56},{"s":"100","t":7.9,"v":0.60},{"s":"100","t":8,"v":0.66},
{"s":"150","t":0,"v":0.14},{"s":"150","t":0.1,"v":0.10},{"s":"150","t":0.2,"v":0.06},{"s":"150","t":0.3,"v":0.10},{"s":"150","t":0.4,"v":0.08},{"s":"150","t":0.5,"v":0.12},{"s":"150","t":0.6,"v":0.08},{"s":"150","t":0.7,"v":0.14},{"s":"150","t":0.8,"v":0.10},{"s":"150","t":0.9,"v":0.12},
{"s":"150","t":1,"v":0.14},{"s":"150","t":1.1,"v":0.10},{"s":"150","t":1.2,"v":0.08},{"s":"150","t":1.3,"v":0.14},{"s":"150","t":1.4,"v":0.12},{"s":"150","t":1.5,"v":0.16},{"s":"150","t":1.6,"v":0.20},{"s":"150","t":1.7,"v":0.22},{"s":"150","t":1.8,"v":0.24},{"s":"150","t":1.9,"v":0.22},
{"s":"150","t":2,"v":0.28},{"s":"150","t":2.1,"v":0.30},{"s":"150","t":2.2,"v":0.32},{"s":"150","t":2.3,"v":0.36},{"s":"150","t":2.4,"v":0.34},{"s":"150","t":2.5,"v":0.38},{"s":"150","t":2.6,"v":0.34},{"s":"150","t":2.7,"v":0.38},{"s":"150","t":2.8,"v":0.36},{"s":"150","t":2.9,"v":0.40},
{"s":"150","t":3,"v":0.42},{"s":"150","t":3.1,"v":0.40},{"s":"150","t":3.2,"v":0.44},{"s":"150","t":3.3,"v":0.46},{"s":"150","t":3.4,"v":0.48},{"s":"150","t":3.5,"v":0.46},{"s":"150","t":3.6,"v":0.50},{"s":"150","t":3.7,"v":0.48},{"s":"150","t":3.8,"v":0.52},{"s":"150","t":3.9,"v":0.56},
{"s":"150","t":4,"v":0.58},{"s":"150","t":4.1,"v":0.60},{"s":"150","t":4.2,"v":0.52},{"s":"150","t":4.3,"v":0.46},{"s":"150","t":4.4,"v":0.50},{"s":"150","t":4.5,"v":0.48},{"s":"150","t":4.6,"v":0.52},{"s":"150","t":4.7,"v":0.50},{"s":"150","t":4.8,"v":0.54},{"s":"150","t":4.9,"v":0.50},
{"s":"150","t":5,"v":0.56},{"s":"150","t":5.1,"v":0.60},{"s":"150","t":5.2,"v":0.62},{"s":"150","t":5.3,"v":0.64},{"s":"150","t":5.4,"v":0.66},{"s":"150","t":5.5,"v":0.68},{"s":"150","t":5.6,"v":0.70},{"s":"150","t":5.7,"v":0.66},{"s":"150","t":5.8,"v":0.68},{"s":"150","t":5.9,"v":0.66},
{"s":"150","t":6,"v":0.62},{"s":"150","t":6.1,"v":0.64},{"s":"150","t":6.2,"v":0.60},{"s":"150","t":6.3,"v":0.55},{"s":"150","t":6.4,"v":0.62},{"s":"150","t":6.5,"v":0.58},{"s":"150","t":6.6,"v":0.60},{"s":"150","t":6.7,"v":0.64},{"s":"150","t":6.8,"v":0.66},{"s":"150","t":6.9,"v":0.70},
{"s":"150","t":7,"v":0.76},{"s":"150","t":7.1,"v":0.80},{"s":"150","t":7.2,"v":0.80},{"s":"150","t":7.3,"v":0.82},{"s":"150","t":7.4,"v":0.84},{"s":"150","t":7.5,"v":0.86},{"s":"150","t":7.6,"v":0.88},{"s":"150","t":7.64,"v":1.10},{"s":"150","t":7.67,"v":0},{"s":"150","t":7.72,"v":0.90},{"s":"150","t":7.8,"v":0.92},{"s":"150","t":7.9,"v":0.90},{"s":"150","t":8,"v":0.88},
{"s":"200","t":0,"v":0.20},{"s":"200","t":0.1,"v":0.14},{"s":"200","t":0.2,"v":0.18},{"s":"200","t":0.3,"v":0.12},{"s":"200","t":0.4,"v":0.16},{"s":"200","t":0.5,"v":0.18},{"s":"200","t":0.6,"v":0.14},{"s":"200","t":0.7,"v":0.20},{"s":"200","t":0.8,"v":0.16},{"s":"200","t":0.9,"v":0.18},
{"s":"200","t":1,"v":0.20},{"s":"200","t":1.1,"v":0.16},{"s":"200","t":1.2,"v":0.20},{"s":"200","t":1.3,"v":0.18},{"s":"200","t":1.4,"v":0.22},{"s":"200","t":1.5,"v":0.20},{"s":"200","t":1.6,"v":0.26},{"s":"200","t":1.7,"v":0.30},{"s":"200","t":1.8,"v":0.36},{"s":"200","t":1.9,"v":0.30},
{"s":"200","t":2,"v":0.32},{"s":"200","t":2.1,"v":0.38},{"s":"200","t":2.2,"v":0.34},{"s":"200","t":2.3,"v":0.40},{"s":"200","t":2.4,"v":0.36},{"s":"200","t":2.5,"v":0.42},{"s":"200","t":2.6,"v":0.38},{"s":"200","t":2.7,"v":0.44},{"s":"200","t":2.8,"v":0.46},{"s":"200","t":2.9,"v":0.38},
{"s":"200","t":3,"v":0.42},{"s":"200","t":3.1,"v":0.40},{"s":"200","t":3.2,"v":0.38},{"s":"200","t":3.3,"v":0.44},{"s":"200","t":3.4,"v":0.46},{"s":"200","t":3.5,"v":0.44},{"s":"200","t":3.6,"v":0.48},{"s":"200","t":3.7,"v":0.50},{"s":"200","t":3.8,"v":0.48},{"s":"200","t":3.9,"v":0.52},
{"s":"200","t":4,"v":0.50},{"s":"200","t":4.1,"v":0.54},{"s":"200","t":4.2,"v":0.56},{"s":"200","t":4.3,"v":0.58},{"s":"200","t":4.4,"v":0.60},{"s":"200","t":4.5,"v":0.62},{"s":"200","t":4.6,"v":0.66},{"s":"200","t":4.7,"v":0.68},{"s":"200","t":4.8,"v":0.66},{"s":"200","t":4.9,"v":0.68},
{"s":"200","t":5,"v":0.70},{"s":"200","t":5.1,"v":0.66},{"s":"200","t":5.2,"v":0.64},{"s":"200","t":5.3,"v":0.68},{"s":"200","t":5.4,"v":0.66},{"s":"200","t":5.5,"v":0.70},{"s":"200","t":5.6,"v":0.68},{"s":"200","t":5.7,"v":0.70},{"s":"200","t":5.8,"v":0.72},{"s":"200","t":5.9,"v":0.68},
{"s":"200","t":6,"v":0.66},{"s":"200","t":6.1,"v":0.64},{"s":"200","t":6.2,"v":0.68},{"s":"200","t":6.3,"v":0.70},{"s":"200","t":6.4,"v":0.72},{"s":"200","t":6.5,"v":0.76},{"s":"200","t":6.6,"v":0.78},{"s":"200","t":6.7,"v":0.80},{"s":"200","t":6.8,"v":0.82},{"s":"200","t":6.9,"v":0.84},
{"s":"200","t":7,"v":0.86},{"s":"200","t":7.1,"v":0.84},{"s":"200","t":7.2,"v":0.88},{"s":"200","t":7.3,"v":0.86},{"s":"200","t":7.4,"v":0.88},{"s":"200","t":7.5,"v":0.90},{"s":"200","t":7.6,"v":0.88},{"s":"200","t":7.7,"v":0.92},{"s":"200","t":7.8,"v":0.90},{"s":"200","t":7.85,"v":1.5},{"s":"200","t":7.88,"v":0.92},{"s":"200","t":7.95,"v":0.80},{"s":"200","t":8,"v":0.94},
{"s":"50","t":0,"v":0.20},{"s":"50","t":0.1,"v":0.16},{"s":"50","t":0.2,"v":0.14},{"s":"50","t":0.3,"v":0.20},{"s":"50","t":0.4,"v":0.18},{"s":"50","t":0.5,"v":0.22},{"s":"50","t":0.6,"v":0.20},{"s":"50","t":0.7,"v":0.24},{"s":"50","t":0.8,"v":0.18},{"s":"50","t":0.9,"v":0.20},
{"s":"50","t":1,"v":0.16},{"s":"50","t":1.1,"v":0.14},{"s":"50","t":1.2,"v":0.12},{"s":"50","t":1.3,"v":0.16},{"s":"50","t":1.4,"v":0.14},{"s":"50","t":1.5,"v":0.18},{"s":"50","t":1.6,"v":0.16},{"s":"50","t":1.7,"v":0.20},{"s":"50","t":1.8,"v":0.22},{"s":"50","t":1.9,"v":0.26},
{"s":"50","t":2,"v":0.28},{"s":"50","t":2.1,"v":0.22},{"s":"50","t":2.2,"v":0.20},{"s":"50","t":2.3,"v":0.26},{"s":"50","t":2.4,"v":0.22},{"s":"50","t":2.5,"v":0.28},{"s":"50","t":2.6,"v":0.30},{"s":"50","t":2.7,"v":0.24},{"s":"50","t":2.8,"v":0.28},{"s":"50","t":2.9,"v":0.22},
{"s":"50","t":3,"v":0.26},{"s":"50","t":3.1,"v":0.30},{"s":"50","t":3.2,"v":0.24},{"s":"50","t":3.3,"v":0.28},{"s":"50","t":3.4,"v":0.26},{"s":"50","t":3.5,"v":0.24},{"s":"50","t":3.6,"v":0.30},{"s":"50","t":3.7,"v":0.28},{"s":"50","t":3.8,"v":0.34},{"s":"50","t":3.9,"v":0.30},
{"s":"50","t":4,"v":0.32},{"s":"50","t":4.1,"v":0.28},{"s":"50","t":4.2,"v":0.32},{"s":"50","t":4.3,"v":0.30},{"s":"50","t":4.4,"v":0.34},{"s":"50","t":4.5,"v":0.40},{"s":"50","t":4.6,"v":0.32},{"s":"50","t":4.7,"v":0.30},{"s":"50","t":4.8,"v":0.28},{"s":"50","t":4.9,"v":0.30},
{"s":"50","t":5,"v":0.31},{"s":"50","t":5.1,"v":0.32},{"s":"50","t":5.2,"v":0.30},{"s":"50","t":5.3,"v":0.34},{"s":"50","t":5.4,"v":0.32},{"s":"50","t":5.5,"v":0.35},{"s":"50","t":5.6,"v":0.33},{"s":"50","t":5.7,"v":0.36},{"s":"50","t":5.8,"v":0.32},{"s":"50","t":5.9,"v":0.34},
{"s":"50","t":6,"v":0.36},{"s":"50","t":6.1,"v":0.33},{"s":"50","t":6.2,"v":0.36},{"s":"50","t":6.3,"v":0.34},{"s":"50","t":6.4,"v":0.38},{"s":"50","t":6.5,"v":0.36},{"s":"50","t":6.6,"v":0.38},{"s":"50","t":6.7,"v":0.37},{"s":"50","t":6.8,"v":0.40},{"s":"50","t":6.9,"v":0.38},
{"s":"50","t":7,"v":0.40},{"s":"50","t":7.1,"v":0.41},{"s":"50","t":7.2,"v":0.42},{"s":"50","t":7.3,"v":0.44},{"s":"50","t":7.4,"v":0.46},{"s":"50","t":7.5,"v":0.47},{"s":"50","t":7.6,"v":0.49},{"s":"50","t":7.7,"v":0.50},{"s":"50","t":7.8,"v":1.24},{"s":"50","t":7.84,"v":0.40},{"s":"50","t":7.9,"v":0.48},{"s":"50","t":8,"v":0.53},
{"s":"250","t":0,"v":0.05},{"s":"250","t":0.1,"v":0.18},{"s":"250","t":0.2,"v":0.08},{"s":"250","t":0.3,"v":0.02},{"s":"250","t":0.4,"v":0.24},{"s":"250","t":0.5,"v":0.20},{"s":"250","t":0.6,"v":0.12},{"s":"250","t":0.7,"v":0.28},{"s":"250","t":0.8,"v":0.20},{"s":"250","t":0.9,"v":0.06},
{"s":"250","t":1,"v":0.20},{"s":"250","t":1.1,"v":0.16},{"s":"250","t":1.2,"v":0.10},{"s":"250","t":1.3,"v":0.18},{"s":"250","t":1.4,"v":0.20},{"s":"250","t":1.5,"v":0.22},{"s":"250","t":1.6,"v":0.38},{"s":"250","t":1.7,"v":0.32},{"s":"250","t":1.8,"v":0.34},{"s":"250","t":1.9,"v":0.44},
{"s":"250","t":2,"v":0.49},{"s":"250","t":2.1,"v":0.40},{"s":"250","t":2.2,"v":0.50},{"s":"250","t":2.3,"v":0.34},{"s":"250","t":2.4,"v":0.44},{"s":"250","t":2.5,"v":0.30},{"s":"250","t":2.6,"v":0.26},{"s":"250","t":2.7,"v":0.30},{"s":"250","t":2.8,"v":0.36},{"s":"250","t":2.9,"v":0.28},
{"s":"250","t":3,"v":0.34},{"s":"250","t":3.1,"v":0.40},{"s":"250","t":3.2,"v":0.46},{"s":"250","t":3.3,"v":0.52},{"s":"250","t":3.4,"v":0.60},{"s":"250","t":3.5,"v":0.58},{"s":"250","t":3.6,"v":0.64},{"s":"250","t":3.7,"v":0.68},{"s":"250","t":3.8,"v":0.62},{"s":"250","t":3.9,"v":0.58},
{"s":"250","t":4,"v":0.55},{"s":"250","t":4.1,"v":0.50},{"s":"250","t":4.2,"v":0.46},{"s":"250","t":4.3,"v":0.45},{"s":"250","t":4.4,"v":0.43},{"s":"250","t":4.5,"v":0.42},{"s":"250","t":4.6,"v":0.50},{"s":"250","t":4.7,"v":0.56},{"s":"250","t":4.8,"v":0.59},{"s":"250","t":4.9,"v":0.65},
{"s":"250","t":5,"v":0.71},{"s":"250","t":5.1,"v":0.74},{"s":"250","t":5.2,"v":0.80},{"s":"250","t":5.3,"v":0.78},{"s":"250","t":5.4,"v":0.75},{"s":"250","t":5.5,"v":0.76},{"s":"250","t":5.6,"v":0.72},{"s":"250","t":5.7,"v":0.68},{"s":"250","t":5.8,"v":0.62},{"s":"250","t":5.9,"v":0.59},
{"s":"250","t":6,"v":0.62},{"s":"250","t":6.1,"v":0.60},{"s":"250","t":6.2,"v":0.62},{"s":"250","t":6.3,"v":0.66},{"s":"250","t":6.4,"v":0.71},{"s":"250","t":6.5,"v":0.78},{"s":"250","t":6.6,"v":0.86},{"s":"250","t":6.7,"v":0.92},{"s":"250","t":6.8,"v":0.98},{"s":"250","t":6.9,"v":1.02},
{"s":"250","t":7,"v":1.06},{"s":"250","t":7.1,"v":1.09},{"s":"250","t":7.2,"v":1.03},{"s":"250","t":7.3,"v":0.97},{"s":"250","t":7.4,"v":0.95},{"s":"250","t":7.5,"v":1.00},{"s":"250","t":7.6,"v":0.96},{"s":"250","t":7.7,"v":0.94},{"s":"250","t":7.76,"v":1.12},{"s":"250","t":7.79,"v":0},{"s":"250","t":7.82,"v":0.95},{"s":"250","t":7.9,"v":0.96},{"s":"250","t":8,"v":0.83}
],
"ac": [
{"k":"=150kg","lx":2.44,"ly":3.28,"ax":4.26,"ay":2.23,"hx":3.09,"hy":3.15},
{"k":"=200kg","lx":1.70,"ly":2.70,"ax":3.20,"ay":2.04,"hx":2.48,"hy":2.55},
{"k":"=250kg","lx":0.815,"ly":2.28,"ax":2.04,"ay":1.89,"hx":1.73,"hy":2.16},
{"k":"=0kg","lx":2.54,"ly":0.40,"ax":2.77,"ay":0.71,"hx":2.96,"hy":0.50},
{"k":"=50kg","lx":3.89,"ly":0.27,"ax":3.44,"ay":1.22,"hx":4.31,"hy":0.375},
{"k":"=100kg","lx":5.40,"ly":0.21,"ax":4.20,"ay":1.81,"hx":5.78,"hy":0.35}
],
"ad": [
{"k":"=150kg","lx":2.75,"ly":2.35,"ax":5.38,"ay":1.51,"hx":3.50,"hy":2.265},
{"k":"=200kg","lx":2.35,"ly":2.035,"ax":4.455,"ay":1.48,"hx":3.31,"hy":1.925},
{"k":"=250kg","lx":1.64,"ly":1.72,"ax":3.05,"ay":1.33,"hx":2.42,"hy":1.576},
{"k":"=0kg","lx":3.31,"ly":0.31,"ax":3.25,"ay":0.55,"hx":3.79,"hy":0.36},
{"k":"=50kg","lx":4.87,"ly":0.285,"ax":4.04,"ay":0.84,"hx":5.25,"hy":0.374},
{"k":"=100kg","lx":6.45,"ly":0.27,"ax":5.22,"ay":0.966,"hx":6.745,"hy":0.336}
],
"ae": [
{"k":"=250kg","lx":1.48,"ly":1.043,"ax":3.37,"ay":0.614,"hx":2.23,"hy":0.977},
{"k":"=200kg","lx":3.28,"ly":1.018,"ax":4.65,"ay":0.69,"hx":3.85,"hy":0.955},
{"k":"=150kg","lx":5.38,"ly":1.018,"ax":6.905,"ay":0.697,"hx":6.08,"hy":0.97},
{"k":"=0kg","lx":2.845,"ly":0.084,"ax":2.80,"ay":0.205,"hx":3.215,"hy":0.099},
{"k":"=50kg","lx":3.95,"ly":0.152,"ax":3.72,"ay":0.303,"hx":4.34,"hy":0.175},
{"k":"=100kg","lx":5.36,"ly":0.227,"ax":4.96,"ay":0.447,"hx":5.79,"hy":0.25}
]
},
"layer": [
{
 "layer": [
  {"data": {"name": "c"}, "transform": [{"filter": "datum.s != '250'"}], "mark": {"type": "line", "strokeWidth": 1},
   "encoding": {
    "x": {"field": "t", "type": "quantitative", "scale": {"domain": [0, 8], "range": [280, 699], "nice": false, "zero": false}, "axis": {"orient": "bottom", "offset": -1004, "values": [0,1,2,3,4,5,6,7,8], "format": "d", "title": "Zaman (s)"}},
    "y": {"field": "v", "type": "quantitative", "scale": {"domain": [0, 3.5], "range": [408, 78], "nice": false, "zero": false}, "axis": {"orient": "left", "offset": -280, "values": [0,0.5,1,1.5,2,2.5,3,3.5], "format": "~g", "title": null}},
    "color": {"field": "s", "type": "nominal", "scale": {"domain": ["0","50","100","150","200","250"], "range": ["#20208c","#2fc42f","#2fd0d4","#c040c8","#c03434","#000000"]}, "legend": null}
   }},
  {"data": {"name": "c"}, "transform": [{"filter": "datum.s == '250'"}], "mark": {"type": "line", "strokeWidth": 2, "color": "#000"},
   "encoding": {"x": {"field": "t", "type": "quantitative", "axis": null}, "y": {"field": "v", "type": "quantitative", "axis": null}}},
  {"data": {"name": "ac"}, "mark": {"type": "rule", "color": "#000", "strokeWidth": 0.8},
   "encoding": {
    "x": {"field": "ax", "type": "quantitative", "axis": {"orient": "top", "offset": -78, "values": [0,1,2,3,4,5,6,7,8], "labels": false, "title": null}},
    "y": {"field": "ay", "type": "quantitative", "axis": {"orient": "right", "offset": -261, "values": [0,0.5,1,1.5,2,2.5,3,3.5], "labels": false, "title": null}},
    "x2": {"field": "hx"}, "y2": {"field": "hy"}
   }},
  {"data": {"name": "ac"}, "transform": [{"calculate": "atan2((datum.hx-datum.ax)*52.375,(datum.hy-datum.ay)*94.29)*180/PI", "as": "ang"}],
   "mark": {"type": "point", "shape": "M0,0L-0.38,1.1L0.38,1.1Z", "filled": true, "color": "#000", "opacity": 1, "size": 200},
   "encoding": {"x": {"field": "hx", "type": "quantitative", "axis": null}, "y": {"field": "hy", "type": "quantitative", "axis": null}, "angle": {"field": "ang", "type": "quantitative", "scale": null}}},
  {"data": {"name": "ac"}, "mark": {"type": "text", "text": "m", "align": "left", "baseline": "middle", "fontSize": 11, "fontWeight": "bold"},
   "encoding": {"x": {"field": "lx", "type": "quantitative", "axis": null}, "y": {"field": "ly", "type": "quantitative", "axis": null}}},
  {"data": {"name": "ac"}, "mark": {"type": "text", "text": "L", "align": "left", "baseline": "middle", "fontSize": 7.5, "fontWeight": "bold", "dx": 9.8, "dy": 4},
   "encoding": {"x": {"field": "lx", "type": "quantitative", "axis": null}, "y": {"field": "ly", "type": "quantitative", "axis": null}}},
  {"data": {"name": "ac"}, "mark": {"type": "text", "align": "left", "baseline": "middle", "fontSize": 11, "fontWeight": "bold", "dx": 14.4},
   "encoding": {"x": {"field": "lx", "type": "quantitative", "axis": null}, "y": {"field": "ly", "type": "quantitative", "axis": null}, "text": {"field": "k"}}},
  {"data": {"values": [{"x": 3.82, "y": -0.60}]}, "mark": {"type": "text", "text": "(c)", "align": "center", "baseline": "middle", "fontSize": 21},
   "encoding": {"x": {"field": "x", "type": "quantitative", "axis": null}, "y": {"field": "y", "type": "quantitative", "axis": null}}},
  {"data": {"values": [{"x": -0.764, "y": 1.75}]}, "mark": {"type": "text", "text": "Gerilme, σ", "angle": 270, "align": "right", "baseline": "middle", "fontSize": 13, "dx": 7},
   "encoding": {"x": {"field": "x", "type": "quantitative", "axis": null}, "y": {"field": "y", "type": "quantitative", "axis": null}}},
  {"data": {"values": [{"x": -0.764, "y": 1.75}]}, "mark": {"type": "text", "text": "z", "angle": 270, "align": "left", "baseline": "middle", "fontSize": 9.5, "dx": 7, "dy": 3},
   "encoding": {"x": {"field": "x", "type": "quantitative", "axis": null}, "y": {"field": "y", "type": "quantitative", "axis": null}}},
  {"data": {"values": [{"x": -0.764, "y": 1.75}]}, "mark": {"type": "text", "text": "(Mpa)", "angle": 270, "align": "left", "baseline": "middle", "fontSize": 13, "dx": 15.5},
   "encoding": {"x": {"field": "x", "type": "quantitative", "axis": null}, "y": {"field": "y", "type": "quantitative", "axis": null}}}
 ],
 "resolve": {"axis": {"x": "independent", "y": "independent"}}
},
{
 "layer": [
  {"data": {"name": "d"}, "transform": [{"filter": "datum.s != '250'"}], "mark": {"type": "line", "strokeWidth": 1},
   "encoding": {
    "x": {"field": "t", "type": "quantitative", "scale": {"domain": [0, 8], "range": [280, 699], "nice": false, "zero": false}, "axis": {"orient": "bottom", "offset": -549, "values": [0,1,2,3,4,5,6,7,8], "format": "d", "title": "Zaman (s)"}},
    "y": {"field": "v", "type": "quantitative", "scale": {"domain": [0, 2.5], "range": [863, 532], "nice": false, "zero": false}, "axis": {"orient": "left", "offset": -280, "values": [0,0.5,1,1.5,2,2.5], "format": "~g", "title": null}},
    "color": {"field": "s", "type": "nominal", "scale": {"domain": ["0","50","100","150","200","250"], "range": ["#20208c","#2fc42f","#2fd0d4","#c040c8","#c03434","#000000"]}, "legend": null}
   }},
  {"data": {"name": "d"}, "transform": [{"filter": "datum.s == '250'"}], "mark": {"type": "line", "strokeWidth": 2, "color": "#000"},
   "encoding": {"x": {"field": "t", "type": "quantitative", "axis": null}, "y": {"field": "v", "type": "quantitative", "axis": null}}},
  {"data": {"name": "ad"}, "mark": {"type": "rule", "color": "#000", "strokeWidth": 0.8},
   "encoding": {
    "x": {"field": "ax", "type": "quantitative", "axis": {"orient": "top", "offset": -532, "values": [0,1,2,3,4,5,6,7,8], "labels": false, "title": null}},
    "y": {"field": "ay", "type": "quantitative", "axis": {"orient": "right", "offset": -261, "values": [0,0.5,1,1.5,2,2.5], "labels": false, "title": null}},
    "x2": {"field": "hx"}, "y2": {"field": "hy"}
   }},
  {"data": {"name": "ad"}, "transform": [{"calculate": "atan2((datum.hx-datum.ax)*52.375,(datum.hy-datum.ay)*132.4)*180/PI", "as": "ang"}],
   "mark": {"type": "point", "shape": "M0,0L-0.38,1.1L0.38,1.1Z", "filled": true, "color": "#000", "opacity": 1, "size": 200},
   "encoding": {"x": {"field": "hx", "type": "quantitative", "axis": null}, "y": {"field": "hy", "type": "quantitative", "axis": null}, "angle": {"field": "ang", "type": "quantitative", "scale": null}}},
  {"data": {"name": "ad"}, "mark": {"type": "text", "text": "m", "align": "left", "baseline": "middle", "fontSize": 11, "fontWeight": "bold"},
   "encoding": {"x": {"field": "lx", "type": "quantitative", "axis": null}, "y": {"field": "ly", "type": "quantitative", "axis": null}}},
  {"data": {"name": "ad"}, "mark": {"type": "text", "text": "L", "align": "left", "baseline": "middle", "fontSize": 7.5, "fontWeight": "bold", "dx": 9.8, "dy": 4},
   "encoding": {"x": {"field": "lx", "type": "quantitative", "axis": null}, "y": {"field": "ly", "type": "quantitative", "axis": null}}},
  {"data": {"name": "ad"}, "mark": {"type": "text", "align": "left", "baseline": "middle", "fontSize": 11, "fontWeight": "bold", "dx": 14.4},
   "encoding": {"x": {"field": "lx", "type": "quantitative", "axis": null}, "y": {"field": "ly", "type": "quantitative", "axis": null}, "text": {"field": "k"}}},
  {"data": {"values": [{"x": 3.82, "y": -0.425}]}, "mark": {"type": "text", "text": "(d)", "align": "center", "baseline": "middle", "fontSize": 21},
   "encoding": {"x": {"field": "x", "type": "quantitative", "axis": null}, "y": {"field": "y", "type": "quantitative", "axis": null}}},
  {"data": {"values": [{"x": -0.764, "y": 1.25}]}, "mark": {"type": "text", "text": "Gerilme, σ", "angle": 270, "align": "right", "baseline": "middle", "fontSize": 13, "dx": 7},
   "encoding": {"x": {"field": "x", "type": "quantitative", "axis": null}, "y": {"field": "y", "type": "quantitative", "axis": null}}},
  {"data": {"values": [{"x": -0.764, "y": 1.25}]}, "mark": {"type": "text", "text": "z", "angle": 270, "align": "left", "baseline": "middle", "fontSize": 9.5, "dx": 7, "dy": 3},
   "encoding": {"x": {"field": "x", "type": "quantitative", "axis": null}, "y": {"field": "y", "type": "quantitative", "axis": null}}},
  {"data": {"values": [{"x": -0.764, "y": 1.25}]}, "mark": {"type": "text", "text": "(Mpa)", "angle": 270, "align": "left", "baseline": "middle", "fontSize": 13, "dx": 15.5},
   "encoding": {"x": {"field": "x", "type": "quantitative", "axis": null}, "y": {"field": "y", "type": "quantitative", "axis": null}}}
 ],
 "resolve": {"axis": {"x": "independent", "y": "independent"}}
},
{
 "layer": [
  {"data": {"name": "e"}, "transform": [{"filter": "datum.s != '250' && datum.s != '50'"}], "mark": {"type": "line", "strokeWidth": 1},
   "encoding": {
    "x": {"field": "t", "type": "quantitative", "scale": {"domain": [0, 8], "range": [280, 699], "nice": false, "zero": false}, "axis": {"orient": "bottom", "offset": -95, "values": [0,1,2,3,4,5,6,7,8], "format": "d", "title": "Zaman (s)"}},
    "y": {"field": "v", "type": "quantitative", "scale": {"domain": [0, 1.5], "range": [1317, 987], "nice": false, "zero": false}, "axis": {"orient": "left", "offset": -280, "values": [0,0.5,1,1.5], "format": "~g", "title": null}},
    "color": {"field": "s", "type": "nominal", "scale": {"domain": ["0","50","100","150","200","250"], "range": ["#20208c","#2fc42f","#2fd0d4","#c040c8","#c03434","#000000"]}, "legend": null}
   }},
  {"data": {"name": "e"}, "transform": [{"filter": "datum.s == '50'"}], "mark": {"type": "line", "strokeWidth": 2.6, "color": "#22dd22"},
   "encoding": {"x": {"field": "t", "type": "quantitative", "axis": null}, "y": {"field": "v", "type": "quantitative", "axis": null}}},
  {"data": {"name": "e"}, "transform": [{"filter": "datum.s == '250'"}], "mark": {"type": "line", "strokeWidth": 2.2, "color": "#000"},
   "encoding": {"x": {"field": "t", "type": "quantitative", "axis": null}, "y": {"field": "v", "type": "quantitative", "axis": null}}},
  {"data": {"name": "ae"}, "mark": {"type": "rule", "color": "#000", "strokeWidth": 0.8},
   "encoding": {
    "x": {"field": "ax", "type": "quantitative", "axis": {"orient": "top", "offset": -987, "values": [0,1,2,3,4,5,6,7,8], "labels": false, "title": null}},
    "y": {"field": "ay", "type": "quantitative", "axis": {"orient": "right", "offset": -261, "values": [0,0.5,1,1.5], "labels": false, "title": null}},
    "x2": {"field": "hx"}, "y2": {"field": "hy"}
   }},
  {"data": {"name": "ae"}, "transform": [{"calculate": "atan2((datum.hx-datum.ax)*52.375,(datum.hy-datum.ay)*220)*180/PI", "as": "ang"}],
   "mark": {"type": "point", "shape": "M0,0L-0.38,1.1L0.38,1.1Z", "filled": true, "color": "#000", "opacity": 1, "size": 200},
   "encoding": {"x": {"field": "hx", "type": "quantitative", "axis": null}, "y": {"field": "hy", "type": "quantitative", "axis": null}, "angle": {"field": "ang", "type": "quantitative", "scale": null}}},
  {"data": {"name": "ae"}, "mark": {"type": "text", "text": "m", "align": "left", "baseline": "middle", "fontSize": 11, "fontWeight": "bold"},
   "encoding": {"x": {"field": "lx", "type": "quantitative", "axis": null}, "y": {"field": "ly", "type": "quantitative", "axis": null}}},
  {"data": {"name": "ae"}, "mark": {"type": "text", "text": "L", "align": "left", "baseline": "middle", "fontSize": 7.5, "fontWeight": "bold", "dx": 9.8, "dy": 4},
   "encoding": {"x": {"field": "lx", "type": "quantitative", "axis": null}, "y": {"field": "ly", "type": "quantitative", "axis": null}}},
  {"data": {"name": "ae"}, "mark": {"type": "text", "align": "left", "baseline": "middle", "fontSize": 11, "fontWeight": "bold", "dx": 14.4},
   "encoding": {"x": {"field": "lx", "type": "quantitative", "axis": null}, "y": {"field": "ly", "type": "quantitative", "axis": null}, "text": {"field": "k"}}},
  {"data": {"values": [{"x": 3.82, "y": -0.26}]}, "mark": {"type": "text", "text": "(e)", "align": "center", "baseline": "middle", "fontSize": 21},
   "encoding": {"x": {"field": "x", "type": "quantitative", "axis": null}, "y": {"field": "y", "type": "quantitative", "axis": null}}},
  {"data": {"values": [{"x": -0.764, "y": 0.75}]}, "mark": {"type": "text", "text": "Gerilme, σ", "angle": 270, "align": "right", "baseline": "middle", "fontSize": 13, "dx": 7},
   "encoding": {"x": {"field": "x", "type": "quantitative", "axis": null}, "y": {"field": "y", "type": "quantitative", "axis": null}}},
  {"data": {"values": [{"x": -0.764, "y": 0.75}]}, "mark": {"type": "text", "text": "z", "angle": 270, "align": "left", "baseline": "middle", "fontSize": 9.5, "dx": 7, "dy": 3},
   "encoding": {"x": {"field": "x", "type": "quantitative", "axis": null}, "y": {"field": "y", "type": "quantitative", "axis": null}}},
  {"data": {"values": [{"x": -0.764, "y": 0.75}]}, "mark": {"type": "text", "text": "(Mpa)", "angle": 270, "align": "left", "baseline": "middle", "fontSize": 13, "dx": 15.5},
   "encoding": {"x": {"field": "x", "type": "quantitative", "axis": null}, "y": {"field": "y", "type": "quantitative", "axis": null}}}
 ],
 "resolve": {"axis": {"x": "independent", "y": "independent"}}
},
{
 "layer": [
  {"data": {"values": [{"x": 0, "y": 10, "txt": "VII. ULUSAL ÖLÇÜMBİLİM KONGRESİ"}, {"x": 868, "y": 10, "txt": "197"}]},
   "mark": {"type": "text", "align": "left", "baseline": "middle", "fontSize": 16},
   "encoding": {
    "x": {"field": "x", "type": "quantitative", "scale": {"domain": [0, 960], "range": [0, 960], "nice": false, "zero": false}, "axis": null},
    "y": {"field": "y", "type": "quantitative", "scale": {"domain": [0, 1412], "range": [0, 1412], "nice": false, "zero": false}, "axis": null},
    "text": {"field": "txt"}}},
  {"data": {"values": [{"x": 311, "x2": 855, "y": 9}, {"x": 903, "x2": 960, "y": 9}]},
   "mark": {"type": "rule", "color": "#000", "strokeWidth": 1},
   "encoding": {"x": {"field": "x", "type": "quantitative", "axis": null}, "x2": {"field": "x2"}, "y": {"field": "y", "type": "quantitative", "axis": null}}},
  {"data": {"values": [{"x": 130, "y": 1398}]},
   "mark": {"type": "text", "text": "Şekil 9.", "align": "right", "baseline": "middle", "fontSize": 21, "fontWeight": "bold"},
   "encoding": {"x": {"field": "x", "type": "quantitative", "axis": null}, "y": {"field": "y", "type": "quantitative", "axis": null}}},
  {"data": {"values": [{"x": 136, "y": 1398}]},
   "mark": {"type": "text", "text": "Deneysel Dinamik Gerilme Değerleri (A) Ch1, (B) Ch2, (C) Ch3, (D) Ch4, (E) Ch5.", "align": "left", "baseline": "middle", "fontSize": 21},
   "encoding": {"x": {"field": "x", "type": "quantitative", "axis": null}, "y": {"field": "y", "type": "quantitative", "axis": null}}}
 ]
}
],
"resolve": {"scale": {"x": "independent", "y": "independent"}, "axis": {"x": "independent", "y": "independent"}}
}
